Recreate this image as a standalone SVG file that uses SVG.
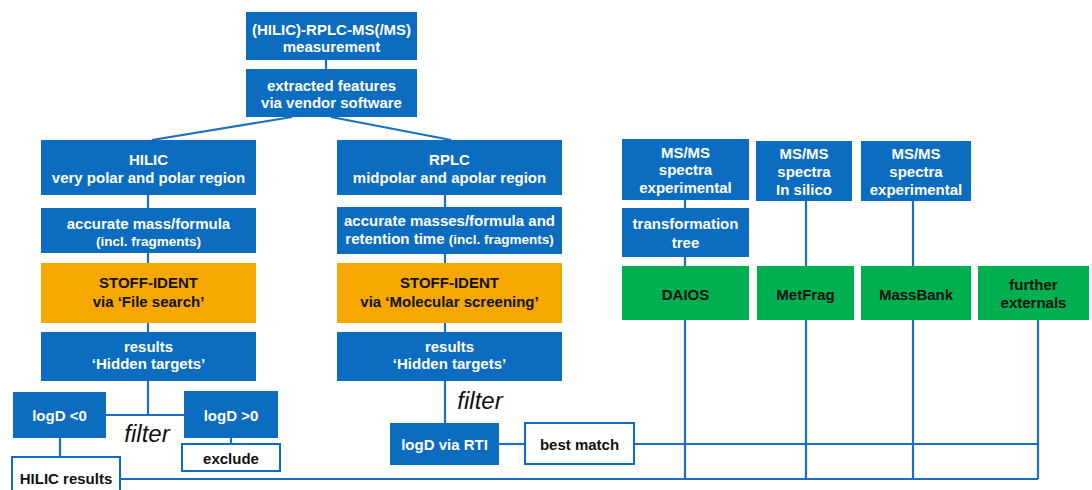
<svg xmlns="http://www.w3.org/2000/svg" width="1092" height="490" viewBox="0 0 1092 490">
<style>
.b{fill:#0B6CC0}
.o{fill:#F6A800}
.g{fill:#00AF50}
.w{fill:#fff;stroke:#0B6CC0;stroke-width:2}
text{font-family:"Liberation Sans",Arial,sans-serif;font-weight:bold;font-size:15px;text-anchor:middle}
.tw{fill:#fff}
.tk{fill:#111}
.sm{font-size:13.5px}
.f{font-weight:normal;font-style:italic;font-size:24px;fill:#111}
.c{stroke:#1A6FC2;stroke-width:2.2;fill:none}
</style>
<rect width="1092" height="490" fill="#fff"/>
<g id="connectors" class="c">
<line x1="326" y1="60" x2="326" y2="69"/>
<line x1="292" y1="117" x2="152" y2="140"/>
<line x1="331" y1="117" x2="451" y2="140"/>
<line x1="148" y1="195" x2="148" y2="415"/>
<line x1="106" y1="415" x2="184" y2="415"/>
<line x1="60" y1="438" x2="60" y2="457"/>
<line x1="231" y1="438" x2="231" y2="444"/>
<line x1="445" y1="195" x2="445" y2="423"/>
<line x1="499" y1="444" x2="525" y2="444"/>
<line x1="634" y1="444" x2="1038" y2="444"/>
<line x1="120" y1="479" x2="1038" y2="479"/>
<line x1="685" y1="200" x2="685" y2="479"/>
<line x1="806" y1="201" x2="806" y2="479"/>
<line x1="913" y1="201" x2="913" y2="479"/>
<line x1="1038" y1="320" x2="1038" y2="479"/>
</g>
<g id="measurement"><rect class="b" x="246" y="12" width="171" height="48"/><text class="tw" x="331.5" y="35">(HILIC)-RPLC-MS(/MS)</text><text class="tw" x="331.5" y="52">measurement</text></g>
<g id="extracted"><rect class="b" x="246" y="69" width="171" height="48"/><text class="tw" x="331.5" y="91">extracted features</text><text class="tw" x="331.5" y="108">via vendor software</text></g>
<g id="hilic"><rect class="b" x="41" y="140" width="215" height="55"/><text class="tw" x="148.5" y="165">HILIC</text><text class="tw" x="148.5" y="183">very polar and polar region</text></g>
<g id="rplc"><rect class="b" x="337" y="140" width="225" height="55"/><text class="tw" x="449.5" y="165">RPLC</text><text class="tw" x="449.5" y="183">midpolar and apolar region</text></g>
<g id="acc-left"><rect class="b" x="41" y="208" width="215" height="45"/><text class="tw" x="148.5" y="229">accurate mass/formula</text><text class="tw sm" x="148.5" y="246">(incl. fragments)</text></g>
<g id="acc-right"><rect class="b" x="337" y="207" width="225" height="47"/><text class="tw" x="449.5" y="226">accurate masses/formula and</text><text class="tw" x="449.5" y="244">retention time <tspan class="sm">(incl. fragments)</tspan></text></g>
<g id="stoff-left"><rect class="o" x="41" y="263" width="215" height="60"/><text class="tk" x="148.5" y="288">STOFF-IDENT</text><text class="tk" x="148.5" y="307">via ‘File search’</text></g>
<g id="stoff-right"><rect class="o" x="337" y="263" width="225" height="60"/><text class="tk" x="449.5" y="288">STOFF-IDENT</text><text class="tk" x="449.5" y="307">via ‘Molecular screening’</text></g>
<g id="results-left"><rect class="b" x="41" y="332" width="215" height="49"/><text class="tw" x="148.5" y="352">results</text><text class="tw" x="148.5" y="369">‘Hidden targets’</text></g>
<g id="results-right"><rect class="b" x="337" y="332" width="225" height="49"/><text class="tw" x="449.5" y="352">results</text><text class="tw" x="449.5" y="369">‘Hidden targets’</text></g>
<g id="logd-neg"><rect class="b" x="13" y="392" width="93" height="46"/><text class="tw" x="59.5" y="421">logD &lt;0</text></g>
<g id="logd-pos"><rect class="b" x="184" y="391" width="94" height="47"/><text class="tw" x="231" y="421">logD &gt;0</text></g>
<g id="filter-left"><text class="f" x="147" y="442">filter</text></g>
<g id="exclude"><rect class="w" x="182" y="444" width="98" height="27"/><text class="tk" x="231" y="464">exclude</text></g>
<g id="hilic-results"><rect class="w" x="12" y="457" width="108" height="40"/><text class="tk" x="66" y="484">HILIC results</text></g>
<g id="filter-right"><text class="f" x="480" y="409">filter</text></g>
<g id="logd-rti"><rect class="b" x="390" y="423" width="109" height="42"/><text class="tw" x="444.5" y="450">logD via RTI</text></g>
<g id="best-match"><rect class="w" x="525" y="423" width="109" height="41"/><text class="tk" x="579.5" y="450">best match</text></g>
<g id="msms-daios"><rect class="b" x="622" y="139" width="127" height="61"/><text class="tw" x="685.5" y="158">MS/MS</text><text class="tw" x="685.5" y="175">spectra</text><text class="tw" x="685.5" y="193">experimental</text></g>
<g id="transformation"><rect class="b" x="622" y="208" width="127" height="49"/><text class="tw" x="685.5" y="229">transformation</text><text class="tw" x="685.5" y="248">tree</text></g>
<g id="daios"><rect class="g" x="622" y="266" width="127" height="54"/><text class="tk" x="685.5" y="300">DAIOS</text></g>
<g id="msms-insilico"><rect class="b" x="756" y="141" width="96" height="60"/><text class="tw" x="804" y="159">MS/MS</text><text class="tw" x="804" y="177">spectra</text><text class="tw" x="804" y="195">In silico</text></g>
<g id="metfrag"><rect class="g" x="757" y="266" width="97" height="54"/><text class="tk" x="805.5" y="300">MetFrag</text></g>
<g id="msms-massbank"><rect class="b" x="861" y="141" width="110" height="60"/><text class="tw" x="916" y="159">MS/MS</text><text class="tw" x="916" y="177">spectra</text><text class="tw" x="916" y="195">experimental</text></g>
<g id="massbank"><rect class="g" x="861" y="266" width="110" height="54"/><text class="tk" x="916" y="300">MassBank</text></g>
<g id="further"><rect class="g" x="978" y="266" width="111" height="54"/><text class="tk" x="1033.5" y="290">further</text><text class="tk" x="1033.5" y="308">externals</text></g>
</svg>
